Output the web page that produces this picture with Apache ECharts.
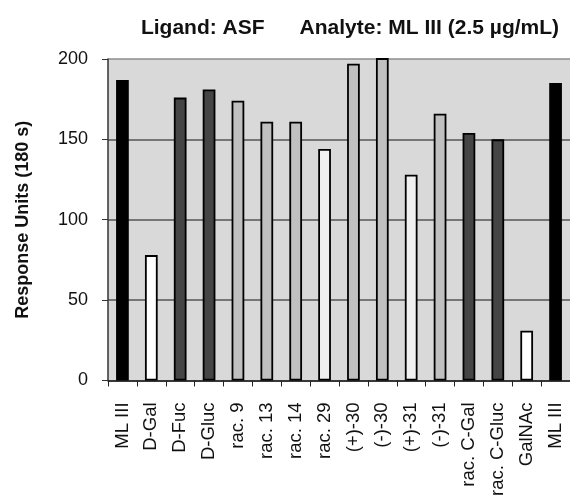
<!DOCTYPE html>
<html>
<head>
<meta charset="utf-8">
<script src="https://cdn.jsdelivr.net/npm/echarts@6/dist/echarts.min.js"></script>
<style>
    html, body { margin: 0; padding: 0; background: #fff; overflow: hidden; }
    #chart { width: 570px; height: 499px; }
</style>
</head>
<body>
<div id="chart"></div>
<script>
const categories = ['ML III', 'D-Gal', 'D-Fuc', 'D-Gluc', 'rac. 9', 'rac. 13', 'rac. 14', 'rac. 29',
    '(+)-30', '(-)-30', '(+)-31', '(-)-31', 'rac. C-Gal', 'rac. C-Gluc', 'GalNAc', 'ML III'];
const responseUnits = [187, 78, 176, 181, 174, 161, 161, 144, 197, 205, 128, 166, 154, 150, 31, 185];
// shading group of each bar
const groups = ['control', 'open', 'dark', 'dark', 'light', 'light', 'light', 'pale',
    'light', 'light', 'pale', 'light', 'dark', 'dark', 'open', 'control'];
const yTicks = [0, 50, 100, 150, 200];

const groupColors = {
    control: '#000000',
    open: '#ffffff',
    dark: '#454545',
    light: '#c0c0c0',
    pale: '#f0f0f0'
};

const myChart = echarts.init(document.getElementById('chart'));
const fontFamily = '"Liberation Sans", Arial, sans-serif';

const option = {
    animation: false,
    title: {
        text: 'Ligand: ASF      Analyte: ML III (2.5 µg/mL)',
        left: 345,
        textAlign: 'center',
        top: 13,
        textStyle: {
            fontFamily,
            fontSize: 21,
            fontWeight: 'bold',
            color: '#111'
        }
    },
    grid: {
        left: 108,
        right: -7,
        top: 59,
        bottom: 118,
        show: true,
        backgroundColor: '#d9d9d9',
        borderWidth: 0
    },
    xAxis: {
        type: 'category',
        data: categories,
        axisLine: { lineStyle: { color: '#222', width: 1.5 } },
        axisTick: { show: true, length: 6, lineStyle: { color: '#222' } },
        axisLabel: {
            interval: 0,
            rotate: 90,
            margin: 22,
            fontFamily,
            fontSize: 18.5,
            color: '#111'
        }
    },
    yAxis: {
        type: 'value',
        min: yTicks[0],
        max: yTicks[yTicks.length - 1],
        interval: 50,
        name: 'Response Units (180 s)',
        nameLocation: 'middle',
        nameGap: 76,
        nameTextStyle: {
            fontFamily,
            fontSize: 18,
            fontWeight: 'bold',
            color: '#111'
        },
        axisLine: { show: true, lineStyle: { color: '#333', width: 1.5 } },
        axisTick: { show: true, length: 6, lineStyle: { color: '#333' } },
        axisLabel: {
            margin: 20,
            fontFamily,
            fontSize: 18,
            color: '#111'
        },
        splitLine: {
            lineStyle: { color: ['#555', '#555', '#555', '#555', '#8c8c8c'], width: 1.5 }
        }
    },
    series: [{
        type: 'bar',
        data: responseUnits,
        barWidth: '44%',
        clip: true,
        itemStyle: {
            color: (p) => groupColors[groups[p.dataIndex]],
            borderColor: '#000',
            borderWidth: 1.8
        }
    }]
};

myChart.setOption(option);
</script>
</body>
</html>
